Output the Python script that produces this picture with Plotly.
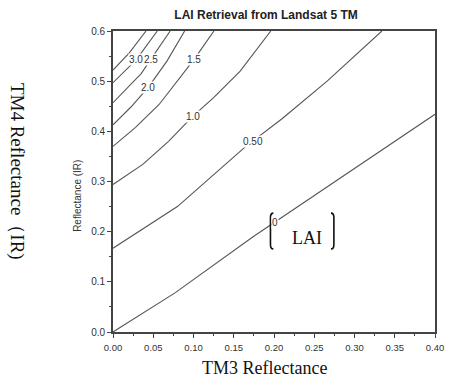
import plotly.graph_objects as go

# LAI iso-lines (TM3 red reflectance x, TM4 NIR reflectance y)
lai_0_x = [0.0, 0.077, 0.174, 0.254, 0.334, 0.400]
lai_0_y = [0.0, 0.078, 0.190, 0.276, 0.363, 0.434]

lai_05_x = [0.0, 0.080, 0.165, 0.210, 0.266, 0.334]
lai_05_y = [0.167, 0.250, 0.370, 0.425, 0.500, 0.600]

lai_10_x = [0.0, 0.037, 0.069, 0.099, 0.125, 0.158, 0.196]
lai_10_y = [0.294, 0.334, 0.380, 0.430, 0.467, 0.520, 0.600]

lai_15_x = [0.0, 0.028, 0.057, 0.089, 0.1005, 0.1254]
lai_15_y = [0.370, 0.408, 0.453, 0.520, 0.543, 0.600]

lai_20_x = [0.0, 0.022, 0.044, 0.067, 0.089]
lai_20_y = [0.413, 0.448, 0.488, 0.540, 0.600]

lai_25_x = [0.0, 0.035, 0.071]
lai_25_y = [0.457, 0.515, 0.600]

lai_30_x = [0.0, 0.029, 0.055]
lai_30_y = [0.497, 0.543, 0.600]

lai_35_x = [0.0, 0.020, 0.041]
lai_35_y = [0.522, 0.556, 0.600]

lines_x = [lai_0_x, lai_05_x, lai_10_x, lai_15_x, lai_20_x, lai_25_x, lai_30_x, lai_35_x]
lines_y = [lai_0_y, lai_05_y, lai_10_y, lai_15_y, lai_20_y, lai_25_y, lai_30_y, lai_35_y]

# contour labels
label_text = ["3.0", "2.5", "2.0", "1.5", "1.0", "0.50", "0"]
label_x = [0.029, 0.047, 0.044, 0.1005, 0.0993, 0.1737, 0.201]
label_y = [0.543, 0.543, 0.488, 0.543, 0.430, 0.380, 0.2177]

x_ticks = [0.00, 0.05, 0.10, 0.15, 0.20, 0.25, 0.30, 0.35, 0.40]
y_ticks = [0.0, 0.1, 0.2, 0.3, 0.4, 0.5, 0.6]

SANS = "Liberation Sans Narrow, Arial Narrow, Liberation Sans, Arial"
SERIF = "Liberation Serif, Times New Roman, serif"

fig = go.Figure()
for xs, ys in zip(lines_x, lines_y):
    fig.add_trace(go.Scatter(x=xs, y=ys, mode="lines",
                             line=dict(color="#555555", width=1.1),
                             hoverinfo="skip", showlegend=False))

for t, lx, ly in zip(label_text, label_x, label_y):
    fig.add_annotation(x=lx, y=ly, xref="x", yref="y", text=t, showarrow=False,
                       xanchor="center", yanchor="middle",
                       font=dict(family=SANS, size=10, color="#333333"),
                       bgcolor="white", borderpad=0)

axis_common = dict(showline=True, mirror=True, linecolor="#444444", linewidth=1.6,
                   ticks="outside", ticklen=4, tickwidth=1.2, tickcolor="#444444",
                   showgrid=False, zeroline=False)

fig.update_xaxes(range=[0, 0.4], tickvals=x_ticks, tickformat=".2f",
                 ticklabelstandoff=2,
                 tickfont=dict(family=SANS, size=9.5, color="#333333"),
                 minor=dict(ticks="outside", ticklen=2.5, tickwidth=1, tickcolor="#444444",
                            dtick=0.025, tick0=0),
                 **axis_common)
fig.update_yaxes(range=[0, 0.6], tickvals=y_ticks, tickformat=".1f",
                 tickfont=dict(family=SANS, size=10, color="#333333"),
                 minor=dict(ticks="outside", ticklen=2.5, tickwidth=1, tickcolor="#444444",
                            dtick=0.05, tick0=0),
                 **axis_common)

fig.update_layout(
    width=454, height=379,
    margin=dict(l=113, r=10, t=31, b=47),
    paper_bgcolor="white", plot_bgcolor="white",
    title=dict(text="<b>LAI Retrieval from Landsat 5 TM</b>", x=0.586, y=0.962,
               xanchor="center", yanchor="middle",
               font=dict(family=SANS, size=12, color="#222222")),
)

# inner and outer axis titles
fig.add_annotation(x=-0.109, y=0.452, xref="paper", yref="paper", text="Reflectance (IR)",
                   textangle=-90, showarrow=False, xanchor="center", yanchor="middle",
                   font=dict(family=SANS, size=10, color="#333333"))
fig.add_annotation(x=-0.298, y=0.535, xref="paper", yref="paper", text="TM4 Reflectance（IR)",
                   textangle=90, showarrow=False, xanchor="center", yanchor="middle",
                   font=dict(family=SERIF, size=19, color="#111111"))
fig.add_annotation(x=0.471, y=-0.12, xref="paper", yref="paper", text="TM3 Reflectance",
                   showarrow=False, xanchor="center", yanchor="middle",
                   font=dict(family=SERIF, size=18, color="#111111"))

# bracketed LAI note
fig.add_annotation(x=0.603, y=0.312, xref="paper", yref="paper", text="LAI",
                   showarrow=False, xanchor="center", yanchor="middle",
                   font=dict(family=SERIF, size=18, color="#111111"))
fig.add_shape(type="path", xref="paper", yref="paper",
              path="M 0.498,0.395 Q 0.489,0.395 0.489,0.38 L 0.489,0.291 Q 0.489,0.276 0.498,0.276",
              line=dict(color="#111111", width=1.6))
fig.add_shape(type="path", xref="paper", yref="paper",
              path="M 0.677,0.395 Q 0.686,0.395 0.686,0.38 L 0.686,0.291 Q 0.686,0.276 0.677,0.276",
              line=dict(color="#111111", width=1.6))

fig.write_html("out.html", config={"displayModeBar": False},
               post_script="document.body.style.margin='0px';")
